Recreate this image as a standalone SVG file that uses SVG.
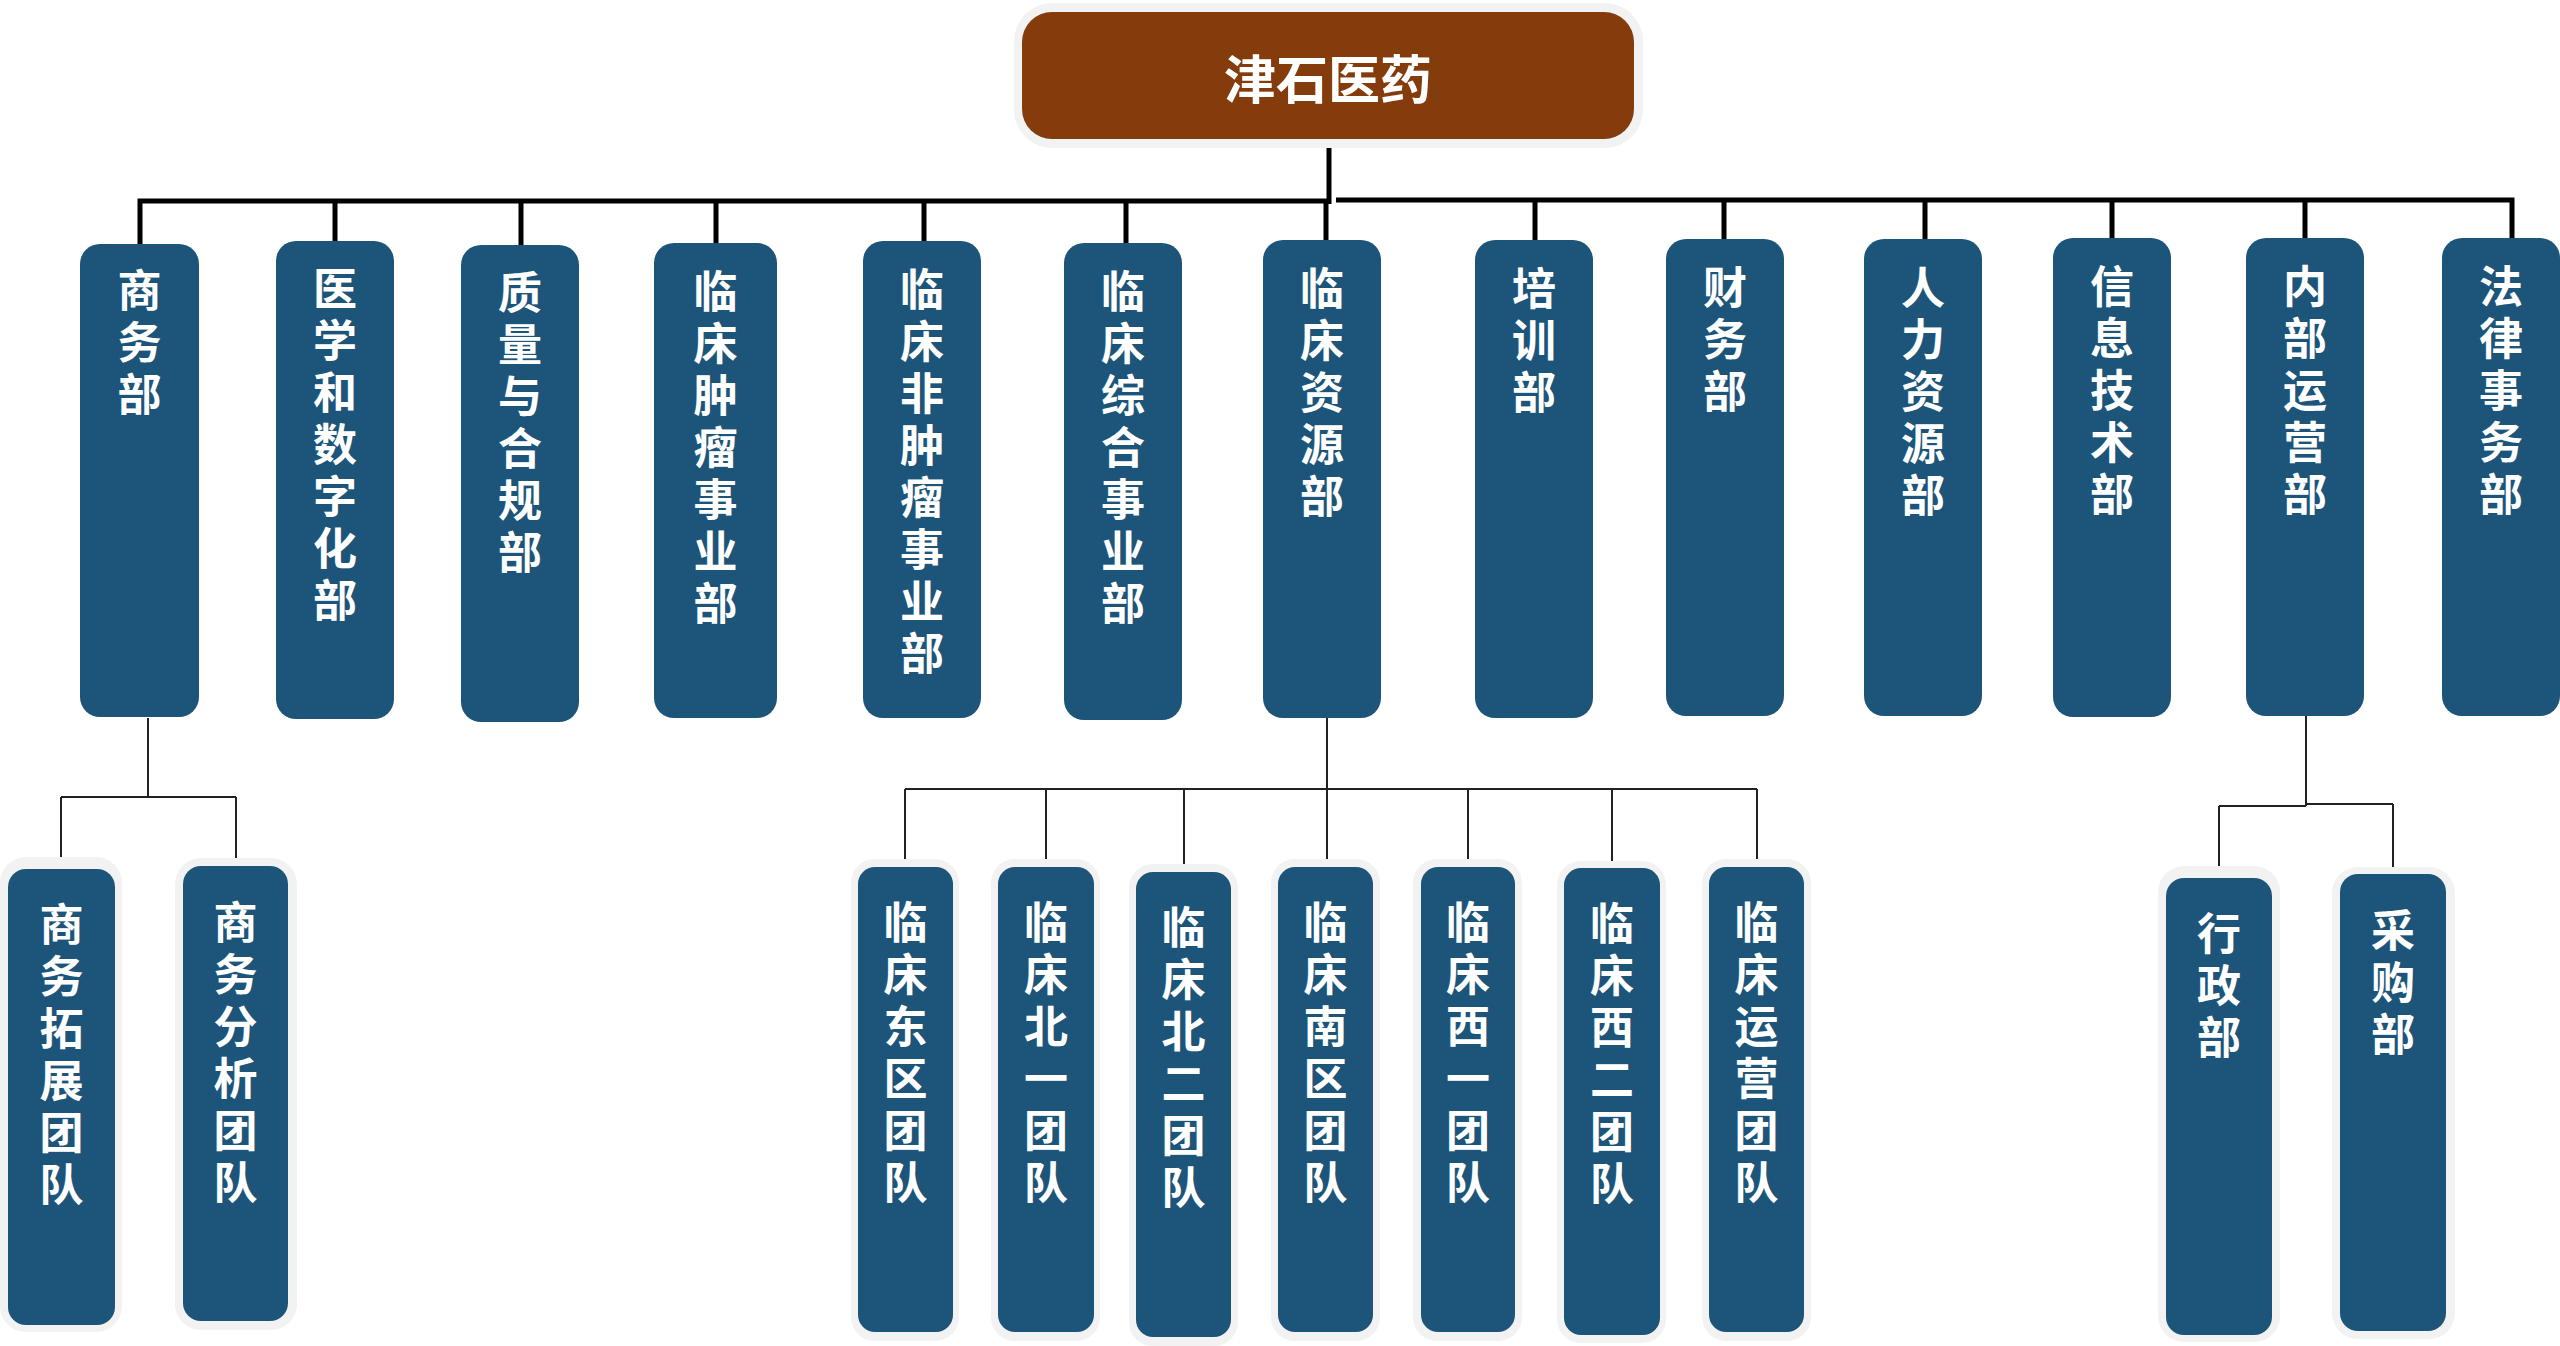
<svg xmlns="http://www.w3.org/2000/svg" width="2560" height="1346" viewBox="0 0 2560 1346">
<style>
.box{fill:#1c5579}
.halo{fill:#f2f2f2}
.t{font-family:"Noto Sans CJK SC","Noto Sans",sans-serif;font-weight:bold;font-size:44px;fill:#ffffff}
.v{writing-mode:vertical-rl;text-orientation:upright;letter-spacing:8px;dominant-baseline:central}
.root{font-size:52px;text-anchor:middle;dominant-baseline:central}
.main{fill:none;stroke:#000;stroke-width:5}
.sub{fill:none;stroke:#222;stroke-width:2}
</style>
<rect width="2560" height="1346" fill="#ffffff"/>
<g id="connectors">
<path class="main" d="M1329,148 V204"/>
<path class="main" d="M140,244 V201 H1331"/>
<path class="main" d="M1336,200 H2512 V238"/>
<path class="main" d="M335,201 V241 M521,201 V245 M716,201 V243 M924,201 V241 M1126,201 V243 M1326,201 V240 M1535,202 V240 M1724,202 V239 M1925,202 V239 M2112,202 V238 M2305,202 V238"/>
<path class="sub" d="M148,718 V797 M61,797 H236 M61,797 V857 M236,797 V858"/>
<path class="sub" d="M1327,718 V867 M905,789 H1757 M905,789 V859 M1046,789 V859 M1184,789 V864 M1468,789 V859 M1612,789 V861 M1757,789 V859"/>
<path class="sub" d="M2306,716 V806 M2219,806 H2306 M2306,804 H2393 M2219,806 V866 M2393,804 V867"/>
</g>
<g id="n-root">
<rect class="halo" x="1014" y="3" width="629" height="145" rx="38"/>
<rect x="1022" y="12" width="612" height="127" rx="30" fill="#843c0c"/>
<text class="t root" x="1328" y="76">津石医药</text>
</g>
<g id="n-shangwu">
<rect class="box" x="80" y="244" width="119" height="473" rx="20"/>
<text class="t v" x="139.5" y="268">商务部</text>
</g>
<g id="n-yixue">
<rect class="box" x="276" y="241" width="118" height="478" rx="20"/>
<text class="t v" x="335" y="266">医学和数字化部</text>
</g>
<g id="n-zhiliang">
<rect class="box" x="461" y="245" width="118" height="477" rx="20"/>
<text class="t v" x="520" y="270">质量与合规部</text>
</g>
<g id="n-zhongliu">
<rect class="box" x="654" y="243" width="123" height="475" rx="20"/>
<text class="t v" x="715.5" y="269">临床肿瘤事业部</text>
</g>
<g id="n-feizhongliu">
<rect class="box" x="863" y="241" width="118" height="477" rx="20"/>
<text class="t v" x="922" y="267">临床非肿瘤事业部</text>
</g>
<g id="n-zonghe">
<rect class="box" x="1064" y="243" width="118" height="477" rx="20"/>
<text class="t v" x="1123" y="269">临床综合事业部</text>
</g>
<g id="n-ziyuan">
<rect class="box" x="1263" y="240" width="118" height="478" rx="20"/>
<text class="t v" x="1322" y="266">临床资源部</text>
</g>
<g id="n-peixun">
<rect class="box" x="1475" y="240" width="118" height="478" rx="20"/>
<text class="t v" x="1534" y="266">培训部</text>
</g>
<g id="n-caiwu">
<rect class="box" x="1666" y="239" width="118" height="477" rx="20"/>
<text class="t v" x="1725" y="265">财务部</text>
</g>
<g id="n-renli">
<rect class="box" x="1864" y="239" width="118" height="477" rx="20"/>
<text class="t v" x="1923" y="265">人力资源部</text>
</g>
<g id="n-xinxi">
<rect class="box" x="2053" y="238" width="118" height="479" rx="20"/>
<text class="t v" x="2112" y="264">信息技术部</text>
</g>
<g id="n-neibu">
<rect class="box" x="2246" y="238" width="118" height="478" rx="20"/>
<text class="t v" x="2305" y="264">内部运营部</text>
</g>
<g id="n-falv">
<rect class="box" x="2442" y="238" width="118" height="478" rx="20"/>
<text class="t v" x="2501" y="264">法律事务部</text>
</g>
<g id="n-tuozhan">
<rect class="halo" x="0" y="857" width="122" height="475" rx="26"/>
<rect class="box" x="8" y="869" width="107" height="456" rx="18"/>
<text class="t v" x="61.5" y="902">商务拓展团队</text>
</g>
<g id="n-fenxi">
<rect class="halo" x="175" y="858" width="122" height="472" rx="26"/>
<rect class="box" x="183" y="866" width="105" height="455" rx="18"/>
<text class="t v" x="235.5" y="900">商务分析团队</text>
</g>
<g id="n-dongqu">
<rect class="halo" x="851" y="859" width="108" height="482" rx="24"/>
<rect class="box" x="858" y="867" width="95" height="465" rx="17"/>
<text class="t v" x="905.5" y="900">临床东区团队</text>
</g>
<g id="n-beiyi">
<rect class="halo" x="991" y="859" width="109" height="482" rx="24"/>
<rect class="box" x="998" y="867" width="96" height="465" rx="17"/>
<text class="t v" x="1046" y="900">临床北一团队</text>
</g>
<g id="n-beier">
<rect class="halo" x="1129" y="864" width="109" height="482" rx="24"/>
<rect class="box" x="1136" y="872" width="95" height="465" rx="17"/>
<text class="t v" x="1183.5" y="905">临床北二团队</text>
</g>
<g id="n-nanqu">
<rect class="halo" x="1271" y="859" width="109" height="482" rx="24"/>
<rect class="box" x="1278" y="867" width="95" height="465" rx="17"/>
<text class="t v" x="1325.5" y="900">临床南区团队</text>
</g>
<g id="n-xiyi">
<rect class="halo" x="1413" y="859" width="109" height="482" rx="24"/>
<rect class="box" x="1421" y="867" width="94" height="465" rx="17"/>
<text class="t v" x="1468" y="900">临床西一团队</text>
</g>
<g id="n-xier">
<rect class="halo" x="1557" y="861" width="109" height="482" rx="24"/>
<rect class="box" x="1564" y="868" width="96" height="467" rx="17"/>
<text class="t v" x="1612" y="901">临床西二团队</text>
</g>
<g id="n-yunying">
<rect class="halo" x="1702" y="859" width="109" height="482" rx="24"/>
<rect class="box" x="1709" y="867" width="95" height="465" rx="17"/>
<text class="t v" x="1756.5" y="900">临床运营团队</text>
</g>
<g id="n-xingzheng">
<rect class="halo" x="2158" y="866" width="122" height="476" rx="26"/>
<rect class="box" x="2166" y="878" width="106" height="457" rx="18"/>
<text class="t v" x="2219" y="911">行政部</text>
</g>
<g id="n-caigou">
<rect class="halo" x="2332" y="867" width="123" height="472" rx="26"/>
<rect class="box" x="2340" y="874" width="106" height="457" rx="18"/>
<text class="t v" x="2393" y="908">采购部</text>
</g>
</svg>
